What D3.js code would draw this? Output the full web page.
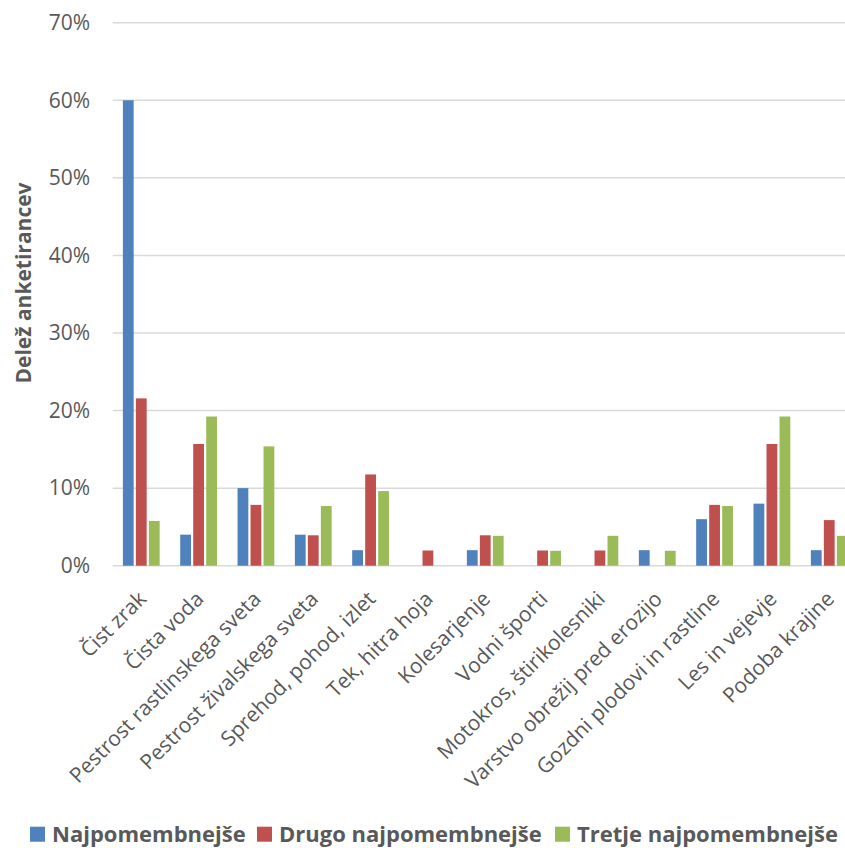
<!DOCTYPE html>
<html>
<head>
<meta charset="utf-8">
<script src="https://cdn.jsdelivr.net/npm/d3@7"></script>
<style>
  html, body { margin: 0; padding: 0; background: #fff; }
  svg { display: block; }
</style>
</head>
<body>
<svg id="chart" width="845" height="848"></svg>
<script>
const categories = [
  "Čist zrak", "Čista voda", "Pestrost rastlinskega sveta", "Pestrost živalskega sveta",
  "Sprehod, pohod, izlet", "Tek, hitra hoja", "Kolesarjenje", "Vodni športi",
  "Motokros, štirikolesniki", "Varstvo obrežij pred erozijo", "Gozdni plodovi in rastline",
  "Les in vejevje", "Podoba krajine"
];
const seriesNames = ["Najpomembnejše", "Drugo najpomembnejše", "Tretje najpomembnejše"];
const najpomembnejse = [60, 4, 10, 4, 2, 0, 2, 0, 0, 2, 6, 8, 2];
const drugoNajpomembnejse = [21.57, 15.69, 7.84, 3.92, 11.76, 1.96, 3.92, 1.96, 1.96, 0, 7.84, 15.69, 5.88];
const tretjeNajpomembnejse = [5.77, 19.23, 15.38, 7.69, 9.62, 0, 3.85, 1.92, 3.85, 1.92, 7.69, 19.23, 3.85];
const yTicks = [0, 10, 20, 30, 40, 50, 60, 70];
const colors = ["#4F81BD", "#C0504D", "#9BBB59"];

const seriesValues = [najpomembnejse, drugoNajpomembnejse, tretjeNajpomembnejse];
const data = categories.map((c, i) => ({
  cat: c,
  vals: seriesNames.map((s, k) => ({ s, v: seriesValues[k][i], k }))
}));

const svg = d3.select("#chart");
const font = "'Open Sans', 'DejaVu Sans', sans-serif";
const textColor = "#595959";

const plotLeft = 112.7, plotRight = 858;
const y = d3.scaleLinear().domain([0, 70]).range([565.7, 22.7]);
const x0 = d3.scaleBand().domain(categories).range([plotLeft, plotRight])
  .paddingInner(0.32).paddingOuter(0.16);
const x1 = d3.scaleBand().domain(seriesNames).range([0, x0.bandwidth()]).padding(0);

// gridlines
svg.append("g").selectAll("line").data(yTicks).join("line")
  .attr("x1", plotLeft).attr("x2", plotRight)
  .attr("y1", d => y(d)).attr("y2", d => y(d))
  .attr("stroke", "#D9D9D9").attr("stroke-width", 1.5);

// y tick labels
svg.append("g").selectAll("text").data(yTicks).join("text")
  .attr("x", 90).attr("y", d => y(d)).attr("dy", "0.35em")
  .attr("text-anchor", "end")
  .style("font-family", font).style("font-size", "21px").style("fill", textColor)
  .text(d => d + "%");

// bars
const groups = svg.append("g").selectAll("g").data(data).join("g")
  .attr("transform", d => `translate(${x0(d.cat)},0)`);
groups.selectAll("rect").data(d => d.vals.filter(e => e.v > 0)).join("rect")
  .attr("x", d => x1(d.s) + 1)
  .attr("width", x1.bandwidth() - 2.2)
  .attr("y", d => y(d.v))
  .attr("height", d => y(0) - y(d.v))
  .attr("fill", d => colors[d.k]);

// x labels
svg.append("g").selectAll("text").data(categories).join("text")
  .attr("transform", d => `translate(${x0(d) + x0.bandwidth() / 2 + 1},595) rotate(-45)`)
  .attr("dy", "0.35em")
  .attr("text-anchor", "end")
  .style("font-family", font).style("font-size", "21px").style("fill", textColor)
  .text(d => d);

// y title
svg.append("text")
  .attr("transform", "translate(31,283) rotate(-90)")
  .attr("text-anchor", "middle")
  .style("font-family", font).style("font-size", "21px").style("font-weight", "bold")
  .style("fill", textColor)
  .text("Delež anketirancev");

// legend
const legendX = [30, 257, 555];
const lg = svg.append("g").selectAll("g").data(seriesNames).join("g")
  .attr("transform", (d, i) => `translate(${legendX[i]},0)`);
lg.append("rect").attr("x", 0).attr("y", 826.7).attr("width", 15).attr("height", 15)
  .attr("fill", (d, i) => colors[i]);
lg.append("text").attr("x", 22).attr("y", 842)
  .style("font-family", font).style("font-size", "22px").style("font-weight", "bold")
  .style("fill", textColor)
  .text(d => d);
</script>
</body>
</html>
